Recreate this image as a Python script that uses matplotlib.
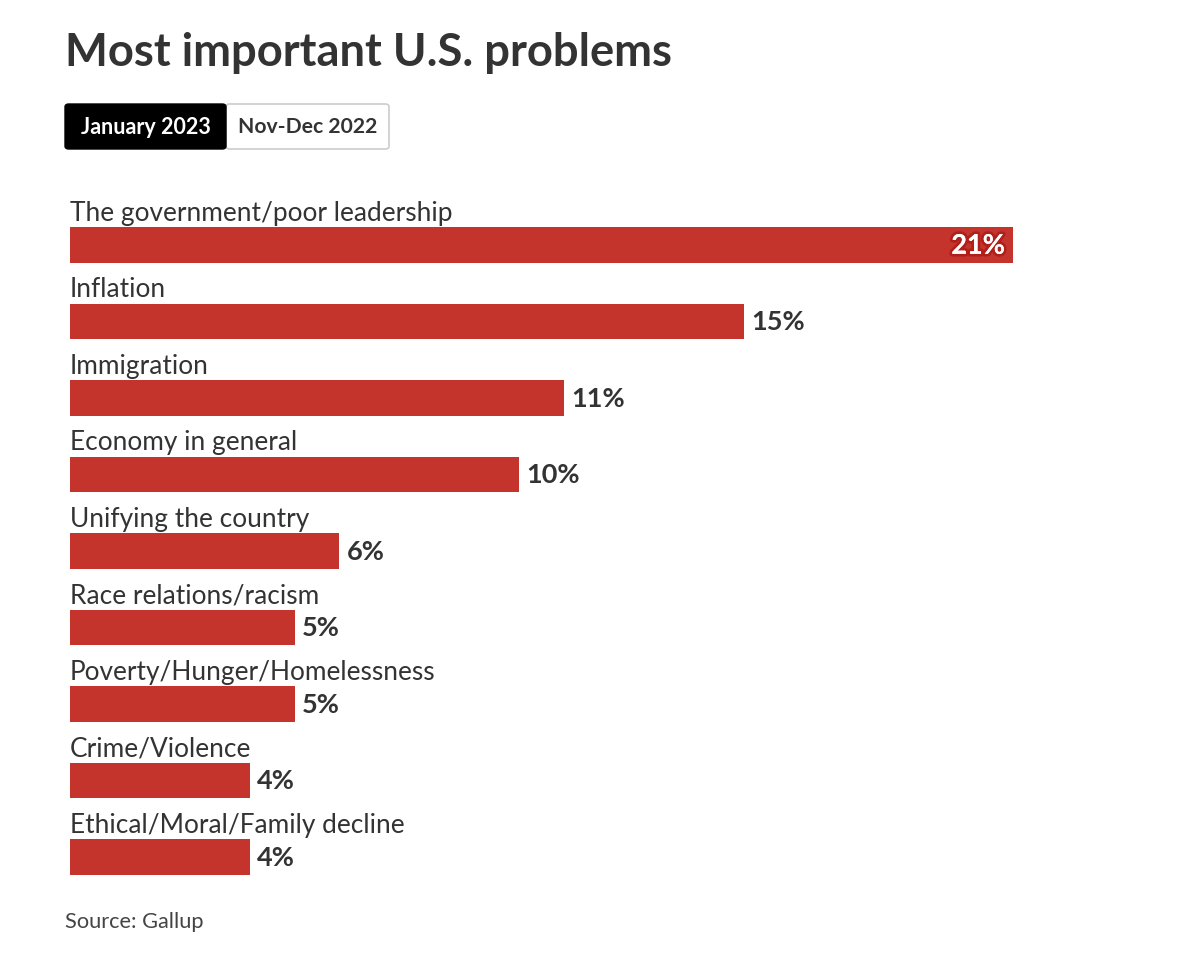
import matplotlib
matplotlib.use("Agg")
import matplotlib.pyplot as plt
from matplotlib.patches import FancyBboxPatch
import matplotlib.patheffects as pe

categories = [
    "The government/poor leadership",
    "Inflation",
    "Immigration",
    "Economy in general",
    "Unifying the country",
    "Race relations/racism",
    "Poverty/Hunger/Homelessness",
    "Crime/Violence",
    "Ethical/Moral/Family decline",
]
values = [21, 15, 11, 10, 6, 5, 5, 4, 4]
title = "Most important U.S. problems"
buttons = ["January 2023", "Nov-Dec 2022"]
source = "Source: Gallup"

W, H = 1200, 963
FONT = "Lato"
RED = "#c4342d"
DARK = "#333333"

fig = plt.figure(figsize=(W / 100, H / 100), dpi=100)
fig.patch.set_facecolor("white")

left_px, right_px = 70, 1013
top_px, bot_px = 168.5, 933.5
ax = fig.add_axes([left_px / W, 1 - bot_px / H, (right_px - left_px) / W, (bot_px - top_px) / H])
ax.set_xlim(0, max(values))
ax.set_ylim(len(categories), -1)
ax.axis("off")

ypos = list(range(len(categories)))
ax.barh(ypos, values, height=0.47, color=RED, edgecolor="none")

for i, (c, v) in enumerate(zip(categories, values)):
    ax.text(0.0, i - 0.32, c, ha="left", va="baseline", fontsize=18.9,
            family=FONT, color=DARK)
    if v == max(values):
        t = ax.text(v - 0.18, i + 0.01, f"{v}%", ha="right", va="center", fontsize=19.5,
                    family=FONT, fontweight="bold", color="white")
        t.set_path_effects([pe.withStroke(linewidth=4, foreground="#b01f1a"), pe.Normal()])
    else:
        ax.text(v + 0.17, i + 0.01, f"{v}%", ha="left", va="center", fontsize=19.5,
                family=FONT, fontweight="bold", color=DARK)

fig.text(65 / W, 1 - 53 / H, title, ha="left", va="center", fontsize=32.7,
         family=FONT, fontweight="bold", color=DARK)

b1 = FancyBboxPatch((65 / W, 1 - 149 / H), 161 / W, 45 / H,
                    boxstyle="round,pad=0,rounding_size=0.003",
                    transform=fig.transFigure, facecolor="black", edgecolor="black", lw=1)
b2 = FancyBboxPatch((226 / W, 1 - 149 / H), 163 / W, 45 / H,
                    boxstyle="round,pad=0,rounding_size=0.003",
                    transform=fig.transFigure, facecolor="white", edgecolor="#cccccc", lw=1.2)
fig.add_artist(b2)
fig.add_artist(b1)
fig.text(145.5 / W, 1 - 127 / H, buttons[0], ha="center", va="center", fontsize=15.5,
         family=FONT, fontweight="bold", color="white")
fig.text(307.5 / W, 1 - 127 / H, buttons[1], ha="center", va="center", fontsize=15.2,
         family=FONT, fontweight="bold", color=DARK)

fig.text(65 / W, 1 - 922 / H, source, ha="left", va="center", fontsize=15.7,
         family=FONT, color="#444444")

fig.savefig("out.png", dpi=100)
